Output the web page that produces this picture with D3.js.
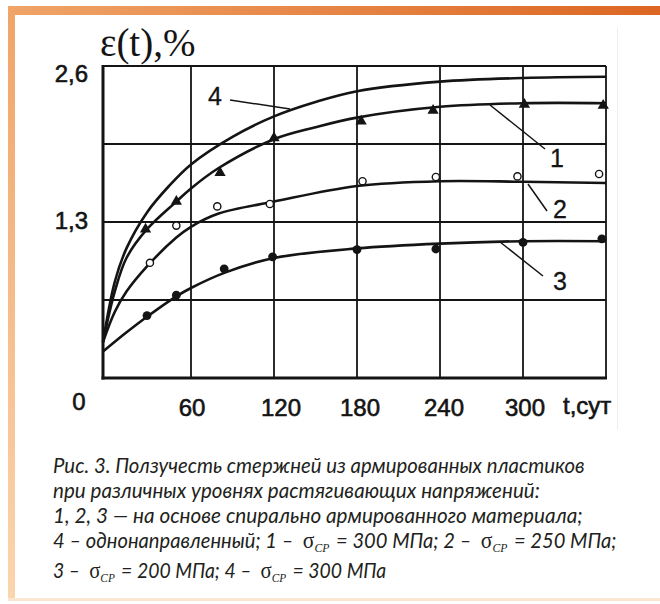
<!DOCTYPE html>
<html><head><meta charset="utf-8">
<script src="https://cdn.jsdelivr.net/npm/d3@7"></script>
<style>html,body{margin:0;padding:0;background:#fff;} svg{display:block}</style>
</head><body>
<svg id="fig" width="660" height="604"></svg>
<script>
// Creep strain ε(t), % of reinforced-plastic rods versus time t, days

// fitted creep curves (time, days / strain, %)
const curve1T = [0, 8, 16, 30, 50, 60, 80, 120, 150, 180, 240, 300, 360];
const curve1E = [0.30, 0.72, 1.00, 1.24, 1.47, 1.58, 1.75, 1.99, 2.09, 2.17, 2.26, 2.29, 2.29];
const curve2T = [0, 8, 16, 30, 50, 60, 80, 120, 180, 240, 300, 360];
const curve2E = [0.30, 0.55, 0.72, 0.93, 1.17, 1.26, 1.37, 1.47, 1.60, 1.64, 1.635, 1.625];
const curve3T = [0, 15, 30, 50, 60, 85, 120, 180, 240, 300, 360];
const curve3E = [0.22, 0.37, 0.51, 0.68, 0.75, 0.88, 1.00, 1.08, 1.12, 1.14, 1.14];
const curve4T = [0, 8, 16, 30, 45, 60, 90, 120, 150, 180, 240, 300, 360];
const curve4E = [0.30, 0.80, 1.08, 1.38, 1.60, 1.78, 2.01, 2.18, 2.30, 2.39, 2.47, 2.50, 2.51];

// measured points
const tri1T = [29, 50, 81, 120, 183, 235, 301, 358];
const tri1E = [1.24, 1.47, 1.71, 2.00, 2.14, 2.23, 2.28, 2.27];
const open2T = [32, 50, 79, 117, 184, 237, 296, 355];
const open2E = [0.96, 1.27, 1.43, 1.45, 1.64, 1.675, 1.68, 1.70];
const dot3T = [30, 50, 84, 119, 180, 237, 300, 357];
const dot3E = [0.52, 0.69, 0.91, 1.01, 1.07, 1.075, 1.13, 1.16];

// axes
const xTicks = [60, 120, 180, 240, 300];
const xGrid = [60, 120, 180, 240, 300, 360];
const yGrid = [0.65, 1.3, 1.95, 2.6];
const yTickValues = [2.6, 1.3];
const yTickLabels = ["2,6", "1,3"];
const xTitle = "t,сут";
const yTitle = "ε(t),%";
const curveNames = ["1", "2", "3", "4"];

const captionLines = [
  [["Рис. 3. Ползучесть стержней из армированных пластиков"]],
  [["при различных уровнях растягивающих напряжений:"]],
  [["1, 2, 3 — на основе спирально армированного материала;"]],
  [["4 – однонаправленный; 1 –  "], ["σ", "CP"], [" = 300 МПа; 2 –  "], ["σ", "CP"], [" = 250 МПа;"]],
  [["3 –  "], ["σ", "CP"], [" = 200 МПа; 4 –  "], ["σ", "CP"], [" = 300 МПа"]]
];

const svg = d3.select("#fig");
const ink = "#141414";

// orange page frame
const defs = svg.append("defs");
const gTop = defs.append("linearGradient").attr("id", "gTop").attr("x1", 0).attr("x2", 1).attr("y1", 0).attr("y2", 0);
gTop.append("stop").attr("offset", 0).attr("stop-color", "#f0a468");
gTop.append("stop").attr("offset", 1).attr("stop-color", "#dc6622");
const gLeft = defs.append("linearGradient").attr("id", "gLeft").attr("x1", 0).attr("x2", 0).attr("y1", 0).attr("y2", 1);
gLeft.append("stop").attr("offset", 0).attr("stop-color", "#f0a468");
gLeft.append("stop").attr("offset", 1).attr("stop-color", "#fbd5ae");
svg.append("rect").attr("x", 8).attr("y", 6).attr("width", 652).attr("height", 9).attr("fill", "url(#gTop)");
svg.append("rect").attr("x", 8).attr("y", 6).attr("width", 7).attr("height", 592).attr("fill", "url(#gLeft)");
svg.append("rect").attr("x", 8).attr("y", 598).attr("width", 652).attr("height", 3).attr("fill", "#fbe6d2");
svg.append("line").attr("x1", 617.5).attr("x2", 617.5).attr("y1", 28).attr("y2", 430)
  .attr("stroke", "#f4ede7").attr("stroke-width", 1);

// scales
const x = d3.scaleLinear().domain([0, 60, 360]).range([103, 191, 606]);
const y = d3.scaleLinear().domain([0, 2.6]).range([378, 66]);

const plot = svg.append("g");

// grid
plot.selectAll("line.vg").data(xGrid).join("line").attr("class", "vg")
  .attr("x1", d => x(d)).attr("x2", d => x(d)).attr("y1", y(0)).attr("y2", y(2.6))
  .attr("stroke", ink).attr("stroke-width", 1.8);
plot.selectAll("line.hg").data(yGrid).join("line").attr("class", "hg")
  .attr("x1", x(0)).attr("x2", x(360)).attr("y1", d => y(d)).attr("y2", d => y(d))
  .attr("stroke", ink).attr("stroke-width", 1.8);
// axes
plot.append("line").attr("x1", x(0)).attr("x2", x(0)).attr("y1", y(0) + 1.5).attr("y2", y(2.6) - 1)
  .attr("stroke", ink).attr("stroke-width", 3);
plot.append("line").attr("x1", x(0) - 1.5).attr("x2", x(360) + 1).attr("y1", y(0)).attr("y2", y(0))
  .attr("stroke", ink).attr("stroke-width", 3);

// curves
const line = d3.line().x(d => x(d[0])).y(d => y(d[1])).curve(d3.curveCatmullRom.alpha(0.5));
const curves = [[curve1T, curve1E], [curve2T, curve2E], [curve3T, curve3E], [curve4T, curve4E]];
curves.forEach(([t, e]) => {
  plot.append("path").datum(d3.zip(t, e)).attr("d", line)
    .attr("fill", "none").attr("stroke", ink).attr("stroke-width", 2.6).attr("stroke-linejoin", "round");
});

// markers
plot.selectAll("path.tri").data(d3.zip(tri1T, tri1E)).join("path").attr("class", "tri")
  .attr("d", d3.symbol(d3.symbolTriangle).size(55))
  .attr("transform", d => `translate(${x(d[0])},${y(d[1])})`).attr("fill", ink);
plot.selectAll("circle.open").data(d3.zip(open2T, open2E)).join("circle").attr("class", "open")
  .attr("cx", d => x(d[0])).attr("cy", d => y(d[1])).attr("r", 3.6)
  .attr("fill", "#fff").attr("stroke", ink).attr("stroke-width", 1.4);
plot.selectAll("circle.dot").data(d3.zip(dot3T, dot3E)).join("circle").attr("class", "dot")
  .attr("cx", d => x(d[0])).attr("cy", d => y(d[1])).attr("r", 4.4).attr("fill", ink);

// curve labels with leader lines
const labelFont = "'Liberation Sans', Arial, sans-serif";
const leaders = [
  { n: curveNames[3], tx: 215, ty: 105, x1: 230, y1: 100, x2: 290, y2: 109 },
  { n: curveNames[0], tx: 557, ty: 167, x1: 490, y1: 105, x2: 545, y2: 149 },
  { n: curveNames[1], tx: 560, ty: 218, x1: 528, y1: 184, x2: 547, y2: 211 },
  { n: curveNames[2], tx: 560, ty: 290, x1: 500, y1: 242, x2: 543, y2: 276 }
];
leaders.forEach(l => {
  plot.append("line").attr("x1", l.x1).attr("y1", l.y1).attr("x2", l.x2).attr("y2", l.y2)
    .attr("stroke", ink).attr("stroke-width", 1.5);
  plot.append("text").attr("x", l.tx).attr("y", l.ty).attr("text-anchor", "middle")
    .attr("font-family", labelFont).attr("font-size", 25).attr("fill", ink)
    .attr("stroke", ink).attr("stroke-width", 0.3).text(l.n);
});

// tick labels
const styleTick = sel => sel.attr("font-family", labelFont).attr("font-size", 24)
  .attr("fill", ink).attr("stroke", ink).attr("stroke-width", 0.6);
const tickOffsets = { 60: 1, 120: 7, 180: 3, 240: 4, 300: 2 };
svg.selectAll("text.xt").data(xTicks).join("text").attr("class", "xt")
  .attr("x", d => x(d) + tickOffsets[d]).attr("y", 416).attr("text-anchor", "middle")
  .call(styleTick).text(d => d);
const yOffsets = [16, 7];
svg.selectAll("text.yt").data(yTickValues).join("text").attr("class", "yt")
  .attr("x", 88).attr("y", (d, i) => y(d) + yOffsets[i]).attr("text-anchor", "end")
  .call(styleTick).text((d, i) => yTickLabels[i]);
svg.append("text").attr("x", 79).attr("y", 410).attr("text-anchor", "middle")
  .call(styleTick).text("0");
svg.append("text").attr("x", 563).attr("y", 414).call(styleTick).text(xTitle);
svg.append("text").attr("x", 100).attr("y", 56)
  .attr("font-family", "'Liberation Serif', 'Times New Roman', serif").attr("font-size", 39)
  .attr("fill", ink).text(yTitle);

// caption: condensed italic lines, each squeezed horizontally to its line width
const capFont = "Lato, 'Open Sans', sans-serif";
const capBase = [473, 498, 523, 548, 578];
const capWidth = [532, 487, 530, 560, 330];
captionLines.forEach((ln, i) => {
  const g = svg.append("g");
  const t = g.append("text").attr("x", 0).attr("y", 0)
    .attr("font-family", capFont).attr("font-style", "italic").attr("font-size", 21.5)
    .attr("fill", "#231f20").style("white-space", "pre");
  let lowered = false;
  ln.forEach(part => {
    if (part.length === 1) {
      const s = t.append("tspan").text(part[0]);
      if (lowered) { s.attr("dy", -4).attr("dx", 2); lowered = false; }
    } else {
      t.append("tspan").attr("font-family", "'Liberation Serif', serif").attr("font-style", "normal")
        .attr("font-size", 23).text(part[0]);
      t.append("tspan").attr("font-family", "'Liberation Serif', serif").attr("font-size", 12.5)
        .attr("dy", 4).text(part[1]);
      lowered = true;
    }
  });
  const w = t.node().getComputedTextLength();
  g.attr("transform", `translate(53,${capBase[i]}) scale(${capWidth[i] / w},1)`);
});
</script>
</body></html>
